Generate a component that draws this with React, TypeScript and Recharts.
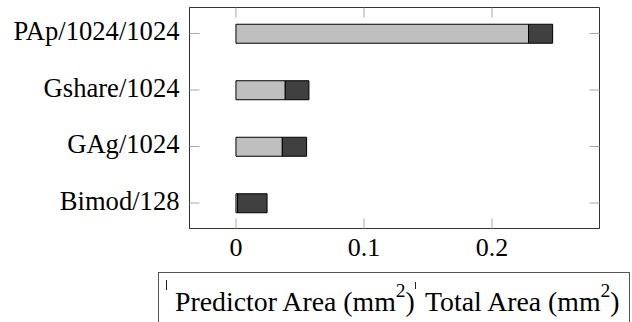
import { BarChart, Bar, XAxis, YAxis, Legend, ReferenceArea } from "recharts";

const categories = ["PAp/1024/1024", "Gshare/1024", "GAg/1024", "Bimod/128"];
const predictorArea = [0.2286, 0.0385, 0.0362, 0.0013];
const totalArea = [0.0188, 0.0185, 0.019, 0.023];
const xTicks = [0, 0.1, 0.2];
const yTicks = [0, 1, 2, 3];
const seriesNames = ["Predictor Area (mm", "Total Area (mm"];

const data = categories.map((name, i) => ({
  idx: i,
  name,
  predictor: predictorArea[i],
  total: totalArea[i],
}));

const FONT = "Liberation Serif";
const TICK_COLOR = "#a8a8a8";
const FRAME = "#333333";
const X_DOMAIN: [number, number] = [-0.0363, 0.284];
const Y_DOMAIN: [number, number] = [-0.46, 3.451];
const PLOT_W = 410;
const PLOT_H = 221;

// left labels plus inner ticks on both the left and right frame
function LeftTick(props: any) {
  const { x, y, payload } = props;
  const axisX = x + 10;
  return (
    <g>
      <line x1={axisX} x2={axisX + 10} y1={y} y2={y} stroke={TICK_COLOR} />
      <line x1={axisX + PLOT_W - 10} x2={axisX + PLOT_W} y1={y} y2={y} stroke={TICK_COLOR} />
      <text x={x} y={y} dy="0.26em" textAnchor="end" fontSize={26.6} fontFamily={FONT} fill="#000">
        {categories[payload.value]}
      </text>
    </g>
  );
}

// bottom labels plus inner ticks on both the bottom and top frame
function BottomTick(props: any) {
  const { x, y, payload } = props;
  const axisY = y - 9;
  return (
    <g>
      <line x1={x} x2={x} y1={axisY} y2={axisY - 10} stroke={TICK_COLOR} />
      <line x1={x} x2={x} y1={axisY - PLOT_H} y2={axisY - PLOT_H + 10} stroke={TICK_COLOR} />
      <text x={x} y={y} dy="0.71em" textAnchor="middle" fontSize={26} fontFamily={FONT} fill="#000">
        {String(payload.value)}
      </text>
    </g>
  );
}

function LegendBox() {
  const label = (text: string, x: number) => (
    <text x={x} y={38} fontSize={27.8} fontFamily={FONT} fill="#000">
      {text}
      <tspan dy={-14} fontSize={19.5}>2</tspan>
      <tspan dy={14}>)</tspan>
    </text>
  );
  return (
    <div
      style={{
        boxSizing: "border-box",
        width: 472,
        height: 60,
        border: "1px solid #555",
        background: "#fff",
      }}
    >
      <svg width={470} height={58} style={{ display: "block" }} fontFamily={FONT}>
        <line x1={7.5} x2={7.5} y1={7} y2={17} stroke="#222" />
        {label(seriesNames[0], 16)}
        <line x1={256.5} x2={256.5} y1={9} y2={16} stroke="#222" />
        {label(seriesNames[1], 266)}
      </svg>
    </div>
  );
}

export default function App() {
  return (
    <div
      style={{
        position: "absolute",
        left: 0,
        top: 0,
        width: 632,
        height: 322,
        overflow: "hidden",
        background: "#fff",
        fontFamily: FONT,
      }}
    >
      <BarChart
        width={632}
        height={322}
        data={data}
        layout="vertical"
        margin={{ top: 7.5, right: 32.5, bottom: 0, left: 0 }}
      >
        <XAxis
          type="number"
          domain={X_DOMAIN}
          ticks={xTicks}
          allowDataOverflow
          interval={0}
          height={93.5}
          tickSize={0}
          tickMargin={9}
          axisLine={{ stroke: FRAME }}
          tick={<BottomTick />}
        />
        <YAxis
          type="number"
          dataKey="idx"
          domain={Y_DOMAIN}
          ticks={yTicks}
          allowDataOverflow
          interval={0}
          width={189.5}
          tickSize={0}
          tickMargin={10}
          axisLine={{ stroke: FRAME }}
          tick={<LeftTick />}
        />
        <ReferenceArea
          x1={X_DOMAIN[0]}
          x2={X_DOMAIN[1]}
          y1={Y_DOMAIN[0]}
          y2={Y_DOMAIN[1]}
          fill="none"
          stroke={FRAME}
          strokeWidth={1}
          ifOverflow="visible"
        />
        <Legend
          verticalAlign="middle"
          align="center"
          layout="horizontal"
          wrapperStyle={{ left: 158, top: 272, width: 472, height: 60 }}
          content={() => <LegendBox />}
        />
        <Bar
          dataKey="predictor"
          name="Predictor Area (mm²)"
          stackId="a"
          barSize={19}
          fill="#bfbfbf"
          stroke="#000"
          strokeWidth={1}
          isAnimationActive={false}
        />
        <Bar
          dataKey="total"
          name="Total Area (mm²)"
          stackId="a"
          barSize={19}
          fill="#404040"
          stroke="#000"
          strokeWidth={1}
          isAnimationActive={false}
        />
      </BarChart>
    </div>
  );
}
